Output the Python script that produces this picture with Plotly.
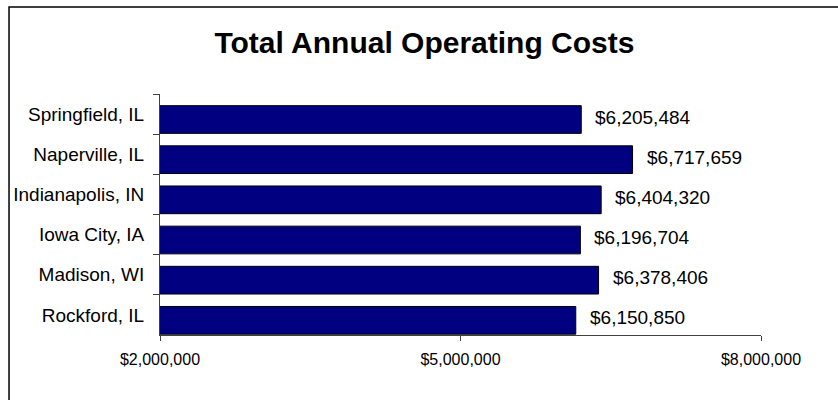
import plotly.graph_objects as go

cities = ["Springfield, IL", "Naperville, IL", "Indianapolis, IN",
          "Iowa City, IA", "Madison, WI", "Rockford, IL"]
costs = [6205484, 6717659, 6404320, 6196704, 6378406, 6150850]
x_ticks = [2000000, 5000000, 8000000]
x_tick_labels = ["$2,000,000", "$5,000,000", "$8,000,000"]

FONT = "Liberation Sans, Arial, sans-serif"

fig = go.Figure()
fig.add_trace(go.Bar(
    x=costs, y=cities, orientation="h",
    marker=dict(color="#000080", line=dict(color="#000000", width=1)),
    width=0.69, offset=-0.21,
    hoverinfo="x+y",
))

for c, v in zip(cities, costs):
    fig.add_annotation(
        x=v, y=c, xref="x", yref="y",
        text="${:,}".format(v), showarrow=False,
        xanchor="left", xshift=12, yshift=-3,
        font=dict(family=FONT, size=19, color="#000000"),
    )

# chart-area frame (extends past the right and bottom of the picture)
fig.add_shape(type="rect", xref="paper", yref="paper",
              x0=-0.2512, x1=1.3, y0=-0.5, y1=1.361,
              line=dict(color="#000000", width=1.5), fillcolor="rgba(0,0,0,0)",
              layer="below")

fig.update_layout(
    width=838, height=400,
    margin=dict(l=160, r=77, t=94, b=65),
    paper_bgcolor="white", plot_bgcolor="white",
    showlegend=False,
    title=dict(text="<b>Total Annual Operating Costs</b>", x=0.5065, xref="container",
               xanchor="center", y=1 - 42 / 400, yanchor="middle",
               font=dict(family=FONT, size=30, color="#000000")),
    font=dict(family=FONT, color="#000000"),
    xaxis=dict(range=[2000000, 8000000], tickvals=x_ticks, ticktext=x_tick_labels,
               showgrid=False, zeroline=False, showline=True, linecolor="#404040",
               linewidth=1, ticks="outside", ticklen=5, tickcolor="#404040",
               ticklabelstandoff=5, tickfont=dict(family=FONT, size=16, color="#000000"),
               automargin=False, fixedrange=True),
    yaxis=dict(autorange="reversed", showgrid=False, zeroline=False, showline=True,
               linecolor="#404040", linewidth=1, ticks="outside", ticklen=6,
               tickcolor="#404040", tickson="boundaries", ticklabelstandoff=11,
               tickfont=dict(family=FONT, size=19, color="#000000"),
               automargin=False, fixedrange=True),
)

fig.write_html("out.html", config={"displayModeBar": False},
               post_script="document.body.style.margin='0';")
